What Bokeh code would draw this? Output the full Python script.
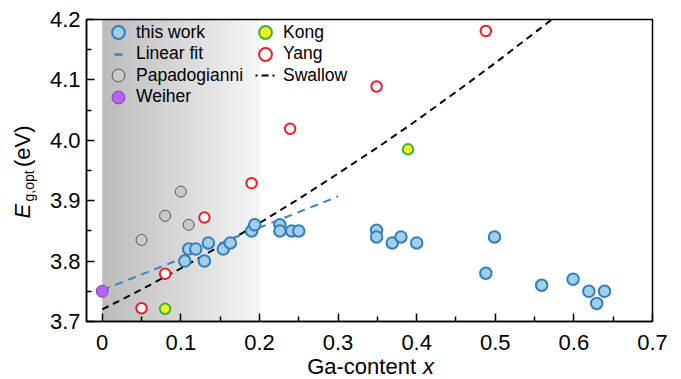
import numpy as np
from bokeh.plotting import figure
from bokeh.models import (Legend, LegendItem, Label, FixedTicker, Range1d,
                          LinearAxis, PrintfTickFormatter)
from bokeh.embed import file_html
from bokeh.resources import INLINE

# ---- data -------------------------------------------------------------
# this work
work_x = [0.105, 0.110, 0.119, 0.135, 0.130, 0.154, 0.163, 0.190, 0.194,
          0.226, 0.226, 0.241, 0.250, 0.349, 0.349, 0.369, 0.380, 0.400,
          0.488, 0.499, 0.559, 0.599, 0.619, 0.639, 0.629]
work_y = [3.800, 3.820, 3.820, 3.830, 3.800, 3.820, 3.830, 3.850, 3.860,
          3.860, 3.850, 3.850, 3.850, 3.851, 3.840, 3.830, 3.840, 3.830,
          3.780, 3.840, 3.760, 3.770, 3.750, 3.750, 3.730]

# linear fit to this work (end points of the drawn segment)
fit_x = [0.0, 0.3]
fit_y = [3.752, 3.907]

# Papadogianni
papa_x = [0.050, 0.080, 0.110, 0.100]
papa_y = [3.835, 3.875, 3.860, 3.915]

# Weiher
weiher_x = [0.0]
weiher_y = [3.750]

# Kong
kong_x = [0.080, 0.389]
kong_y = [3.721, 3.985]

# Yang
yang_x = [0.050, 0.080, 0.130, 0.190, 0.239, 0.349, 0.488]
yang_y = [3.722, 3.779, 3.872, 3.929, 4.019, 4.089, 4.181]

# Swallow curve, up to where it leaves the top of the axes box
swallow_x = [0.00, 0.05, 0.10, 0.15, 0.20, 0.25, 0.30, 0.35, 0.40, 0.45,
             0.50, 0.55, 0.572]
swallow_y = [3.720, 3.753, 3.788, 3.825, 3.863, 3.903, 3.945, 3.988, 4.033,
             4.080, 4.128, 4.178, 4.200]

# axes
x_lo, x_hi = -0.02, 0.7
y_lo, y_hi = 3.7, 4.2
x_ticks = [0.0, 0.1, 0.2, 0.3, 0.4, 0.5, 0.6, 0.7]
x_tick_labels = ["0", "0.1", "0.2", "0.3", "0.4", "0.5", "0.6", "0.7"]
x_minor = [0.05, 0.15, 0.25, 0.35, 0.45, 0.55, 0.65]
y_ticks = [3.7, 3.8, 3.9, 4.0, 4.1, 4.2]
y_tick_labels = ["3.7", "3.8", "3.9", "4.0", "4.1", "4.2"]
y_minor = [3.75, 3.85, 3.95, 4.05, 4.15]

# shaded low-Ga band
band_x0, band_x1 = 0.0, 0.2

FONT = "Liberation Sans"

# ---- page geometry (pixels) ------------------------------------------
W, H = 681, 379
BOX_L, BOX_R, BOX_T, BOX_B = 86, 652, 19, 321
sx = (x_hi - x_lo) / (BOX_R - BOX_L)
sy = (y_hi - y_lo) / (BOX_B - BOX_T)

# the frame spans the whole canvas; the axes box sits inside it
p = figure(width=W, height=H,
           x_range=Range1d(x_lo - BOX_L * sx, x_hi + (W - BOX_R) * sx),
           y_range=Range1d(y_lo - (H - BOX_B) * sy, y_hi + BOX_T * sy),
           x_axis_location=None, y_axis_location=None,
           output_backend="svg", toolbar_location=None,
           min_border=0, min_border_left=0, min_border_right=0,
           min_border_top=0, min_border_bottom=0)
p.grid.visible = False
p.outline_line_color = None
p.background_fill_color = "white"
p.border_fill_color = "white"

# grey gradient band
n = 256
img = np.empty((1, n), dtype=np.uint32)
view = img.view(dtype=np.uint8).reshape((1, n, 4))
g = np.linspace(188, 246, n).astype(np.uint8)
view[0, :, 0] = g
view[0, :, 1] = g
view[0, :, 2] = g
view[0, :, 3] = 255
p.image_rgba(image=[img], x=band_x0, y=y_lo, dw=band_x1 - band_x0,
             dh=y_hi - y_lo)

# lines
r_swallow = p.line(swallow_x, swallow_y, line_color="black", line_width=2,
                   line_dash="7 5")
r_fit = p.line(fit_x, fit_y, line_color="#3a80c2", line_width=2,
               line_dash="8 6")

# markers
r_papa = p.scatter(papa_x, papa_y, size=11, fill_color="#c9c9c9",
                   line_color="#555555", line_width=1)
r_yang = p.scatter(yang_x, yang_y, size=10.5, fill_color="white",
                   line_color="#e8202a", line_width=2)
r_kong = p.scatter(kong_x, kong_y, size=10.5, fill_color="#f4f01e",
                   line_color="#3fae3c", line_width=2)
r_weiher = p.scatter(weiher_x, weiher_y, size=12, fill_color="#b861f2",
                     line_color="#7d46a8", line_width=1)
r_work = p.scatter(work_x, work_y, size=11.5, fill_color="#a4cde6",
                   line_color="#2f7fc1", line_width=2)

# axes box
p.quad(left=[x_lo], right=[x_hi], bottom=[y_lo], top=[y_hi],
       fill_alpha=0, line_color="black", line_width=1.5)

# legend-only keys (a single NaN point, so nothing shows in the plot)
k_fit = p.line([np.nan], [np.nan], line_color="#3a80c2", line_width=2.5,
               line_dash="8 100", line_dash_offset=96)
k_swallow = p.line([np.nan], [np.nan], line_color="black", line_width=2,
                   line_dash="2 4 7 4 2 100", line_dash_offset=113)

# legend: one entry per Legend so the row pitch can be set freely
KEY = 32
ROW0, PITCH = 32.3, 21.5
COL_X = [118, 265]

def add_entry(label, renderer, col, row):
    cx = COL_X[col]
    cy = ROW0 + PITCH * row
    lg = Legend(items=[LegendItem(label=label, renderers=[renderer])],
                location=(cx - KEY / 2, H - (cy + KEY / 2)),
                glyph_width=KEY, glyph_height=KEY, label_height=20,
                spacing=0, padding=0, margin=0, label_standoff=2,
                background_fill_alpha=0, border_line_alpha=0,
                label_text_font=FONT, label_text_font_size="17.5px",
                label_text_color="black")
    p.add_layout(lg)

add_entry("this work", r_work, 0, 0)
add_entry("Linear fit", k_fit, 0, 1)
add_entry("Papadogianni", r_papa, 0, 2)
add_entry("Weiher", r_weiher, 0, 3)
add_entry("Kong", r_kong, 1, 0)
add_entry("Yang", r_yang, 1, 1)
add_entry("Swallow", k_swallow, 1, 2)

# axes drawn along the box edges
xaxis = LinearAxis(fixed_location=y_lo, bounds=(x_lo, x_hi))
yaxis = LinearAxis(fixed_location=x_lo, bounds=(y_lo, y_hi))
p.add_layout(xaxis, "below")
p.add_layout(yaxis, "left")

for ax in (xaxis, yaxis):
    ax.axis_line_width = 1.5
    ax.major_tick_line_width = 1.5
    ax.minor_tick_line_width = 1.5
    ax.major_tick_in = 8
    ax.major_tick_out = 0
    ax.minor_tick_in = 5
    ax.minor_tick_out = 0
    ax.major_label_text_font = FONT
    ax.major_label_text_font_size = "22px"
    ax.major_label_text_color = "black"

xaxis.ticker = FixedTicker(ticks=x_ticks, minor_ticks=x_minor)
xaxis.major_label_overrides = dict(zip(x_ticks, x_tick_labels))
xaxis.major_label_standoff = 13
yaxis.ticker = FixedTicker(ticks=y_ticks, minor_ticks=y_minor)
yaxis.major_label_overrides = dict(zip(y_ticks, y_tick_labels))
yaxis.formatter = PrintfTickFormatter(format="%.1f")
yaxis.major_label_standoff = 6

# axis titles built from pieces (italic symbols, subscript);
# positions in canvas pixels, measured from the bottom-left corner,
# anchored on the middle of each text line
def lab(text, x, y, size="22px", style="normal", angle=0):
    p.add_layout(Label(x=x, y=y, x_units="screen", y_units="screen",
                       text=text, text_font=FONT, text_font_size=size,
                       text_font_style=style, text_color="black",
                       angle=angle, angle_units="deg",
                       text_align="left", text_baseline="middle"))

lab("Ga-content", 306.7, H - 366)
lab("x", 422.5, H - 366, style="italic")

lab("E", 22, H - 218, style="italic", angle=90)
lab("g,opt", 28, H - 201, size="14px", angle=90)
lab("(eV)", 22, H - 166.5, angle=90)

open("out.html", "w").write(file_html(p, INLINE))
